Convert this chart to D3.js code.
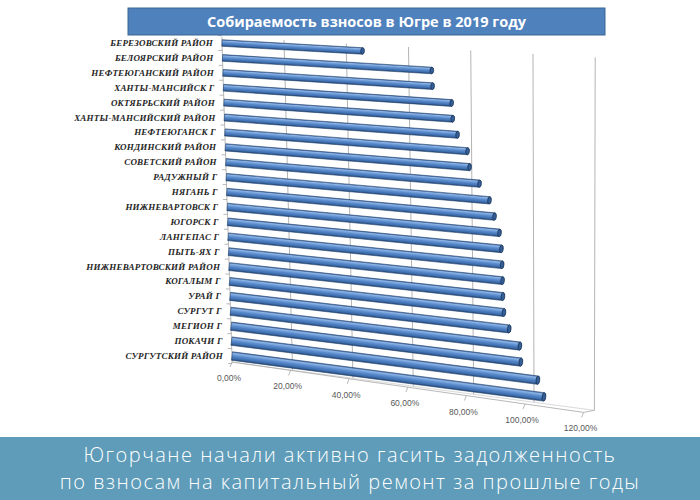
<!DOCTYPE html>
<html>
<head>
<meta charset="utf-8">
<script src="https://cdn.jsdelivr.net/npm/d3@7"></script>
<style>
  body { margin: 0; background: #fff; }
  svg { display: block; }
</style>
</head>
<body>
<svg id="chart"></svg>
<script>
const categories = [
    "БЕРЕЗОВСКИЙ РАЙОН", "БЕЛОЯРСКИЙ РАЙОН", "НЕФТЕЮГАНСКИЙ РАЙОН", "ХАНТЫ-МАНСИЙСК Г",
    "ОКТЯБРЬСКИЙ РАЙОН", "ХАНТЫ-МАНСИЙСКИЙ РАЙОН", "НЕФТЕЮГАНСК Г", "КОНДИНСКИЙ РАЙОН",
    "СОВЕТСКИЙ РАЙОН", "РАДУЖНЫЙ Г", "НЯГАНЬ Г", "НИЖНЕВАРТОВСК Г", "ЮГОРСК Г", "ЛАНГЕПАС Г",
    "ПЫТЬ-ЯХ Г", "НИЖНЕВАРТОВСКИЙ РАЙОН", "КОГАЛЫМ Г", "УРАЙ Г", "СУРГУТ Г", "МЕГИОН Г",
    "ПОКАЧИ Г", "СУРГУТСКИЙ РАЙОН"
];
const values = [
    0.452, 0.674, 0.676, 0.737, 0.740, 0.755, 0.787, 0.793, 0.825, 0.857, 0.873,
    0.889, 0.895, 0.897, 0.898, 0.899, 0.902, 0.919, 0.954, 0.957, 1.013, 1.033
];
const valueTicks = [0, 0.2, 0.4, 0.6, 0.8, 1.0, 1.2];
const chartTitle = "Собираемость взносов в Югре в 2019 году";
const captionLines = [
    "Югорчане начали активно гасить задолженность",
    "по взносам на капитальный ремонт за прошлые годы"
];

const width = 700, height = 500;
const svg = d3.select("#chart").attr("width", width).attr("height", height);
const defs = svg.append("defs");

// row position: 0 = top bar, 1 = bottom bar
const row = d3.scalePoint().domain(categories).range([0, 1]);
const step = row.step();

// fake 3d: for each row, where 0% sits, how long 100% is and how far it drops
const x0 = d3.scaleLinear().domain([0, 1]).range([222, 232]);
const len = d3.scaleLinear().domain([0, 1]).range([311, 302]);
const y0 = d3.scaleLinear().domain([0, 1]).range([43, 356]);
const drop = d3.scaleLinear().domain([0, 1]).range([17.6, 39.6]);
const thick = d3.scaleLinear().domain([0, 1]).range([6.5, 8.5]);

function project(v, r) {
    return [x0(r) + v * len(r), y0(r) + v * drop(r)];
}

// front edge of the floor (value axis)
const fx = d3.scaleLinear().domain([0, 1]).range([232, 525]);
const fy = d3.scaleLinear().domain([0, 1]).range([362, 404]);

const ru = d3.formatLocale({ decimal: ",", thousands: " ", grouping: [3], currency: ["", ""] });
const fmt = ru.format(".2%");

const line = (a, b) => `M${a[0]},${a[1]}L${b[0]},${b[1]}`;

// back wall gridlines
const grid = svg.append("g");
grid.selectAll("path")
    .data(valueTicks.slice(1))
    .enter()
    .append("path")
    .attr("d", v => line(project(v, -0.02), project(v, 1.02)))
    .attr("stroke", "#b4b4b4")
    .attr("stroke-width", 1)
    .attr("fill", "none");

// walls / floor edges
const frame = svg.append("g").attr("stroke", "#a6a6a6").attr("fill", "none").attr("stroke-width", 0.8);
frame.append("path").attr("d", line(project(0, -0.02), project(0, 1.02)));
frame.append("path").attr("d", line(project(0, 1.02), project(1.2, 1.02))).attr("stroke", "#d0d0d0");
frame.append("path").attr("d", line([fx(0), fy(0)], [fx(1.2), fy(1.2)]));
frame.append("path").attr("d", line(project(1.2, 1.02), [fx(1.2), fy(1.2)]));

// category ticks on the left wall
frame.selectAll(".ctick")
    .data(d3.range(categories.length + 1))
    .enter()
    .append("path")
    .attr("class", "ctick")
    .attr("d", i => {
        const p = project(0, (i - 0.5) * step);
        return line(p, [p[0] - 4, p[1]]);
    });

// value ticks + labels
frame.selectAll(".vtick")
    .data(valueTicks)
    .enter()
    .append("path")
    .attr("class", "vtick")
    .attr("d", v => line([fx(v), fy(v)], [fx(v) - 2, fy(v) + 5]));

svg.append("g")
    .selectAll("text")
    .data(valueTicks)
    .enter()
    .append("text")
    .attr("x", v => fx(v) - 3)
    .attr("y", v => fy(v) + 19)
    .attr("text-anchor", "middle")
    .attr("font-family", "Liberation Sans, Arial, sans-serif")
    .attr("font-size", 8.5)
    .attr("fill", "#595959")
    .text(v => fmt(v));

// category labels
svg.append("g")
    .selectAll("text")
    .data(categories)
    .enter()
    .append("text")
    .attr("x", d => x0(row(d)) - 9)
    .attr("y", d => y0(row(d)) + 3)
    .attr("text-anchor", "end")
    .attr("font-family", "Liberation Serif, Times New Roman, serif")
    .attr("font-weight", "bold")
    .attr("font-style", "italic")
    .attr("font-size", 9)
    .attr("letter-spacing", 0.2)
    .attr("fill", "#262626")
    .text(d => d);

// bars as lying cylinders
const bars = categories.map((c, i) => {
    const r = row(c);
    const a = project(0, r), b = project(values[i], r);
    const ang = Math.atan2(b[1] - a[1], b[0] - a[0]);
    const h = thick(r) / 2;
    const n = [-Math.sin(ang) * h, Math.cos(ang) * h];
    return { c, i, a, b, ang, h, n };
});

bars.forEach(d => {
    const g = defs.append("linearGradient")
        .attr("id", "bar" + d.i)
        .attr("gradientUnits", "userSpaceOnUse")
        .attr("x1", d.a[0] - d.n[0]).attr("y1", d.a[1] - d.n[1])
        .attr("x2", d.a[0] + d.n[0]).attr("y2", d.a[1] + d.n[1]);
    [[0, "#3b64a0"], [0.18, "#8db3e4"], [0.45, "#5b8dcf"], [0.8, "#3d6cab"], [1, "#244673"]]
        .forEach(s => g.append("stop").attr("offset", s[0]).attr("stop-color", s[1]));
});

const barG = svg.append("g");
barG.selectAll("path")
    .data(bars)
    .enter()
    .append("path")
    .attr("d", d => {
        const p1 = [d.a[0] - d.n[0], d.a[1] - d.n[1]];
        const p2 = [d.b[0] - d.n[0], d.b[1] - d.n[1]];
        const p3 = [d.b[0] + d.n[0], d.b[1] + d.n[1]];
        const p4 = [d.a[0] + d.n[0], d.a[1] + d.n[1]];
        return `M${p1}L${p2}L${p3}L${p4}Z`;
    })
    .attr("fill", d => `url(#bar${d.i})`)
    .attr("stroke", "#22416b")
    .attr("stroke-width", 0.6);

barG.selectAll("ellipse")
    .data(bars)
    .enter()
    .append("ellipse")
    .attr("transform", d => `translate(${d.b[0]},${d.b[1]}) rotate(${d.ang * 180 / Math.PI})`)
    .attr("rx", 1.8)
    .attr("ry", d => d.h)
    .attr("fill", "#34609a")
    .attr("stroke", "#1a3253")
    .attr("stroke-width", 0.8);

// title box
svg.append("rect")
    .attr("x", 128).attr("y", 8)
    .attr("width", 477).attr("height", 27)
    .attr("fill", "#4f81bd")
    .attr("stroke", "#3a6496")
    .attr("stroke-width", 1);
svg.append("text")
    .attr("x", 366.5).attr("y", 26.5)
    .attr("text-anchor", "middle")
    .attr("font-family", "Open Sans, Liberation Sans, sans-serif")
    .attr("font-weight", "bold")
    .attr("font-size", 14.5)
    .attr("fill", "#fff")
    .text(chartTitle);

// caption banner
svg.append("rect")
    .attr("x", 0).attr("y", 437)
    .attr("width", width).attr("height", height - 437)
    .attr("fill", "#5e9cb9");
svg.append("g")
    .selectAll("text")
    .data(captionLines)
    .enter()
    .append("text")
    .attr("x", width / 2)
    .attr("y", (d, i) => 462 + i * 27)
    .attr("text-anchor", "middle")
    .attr("font-family", "Open Sans, sans-serif")
    .attr("font-weight", 300)
    .attr("font-size", 20)
    .attr("letter-spacing", 1.5)
    .attr("fill", "#fff")
    .text(d => d);
</script>
</body>
</html>
